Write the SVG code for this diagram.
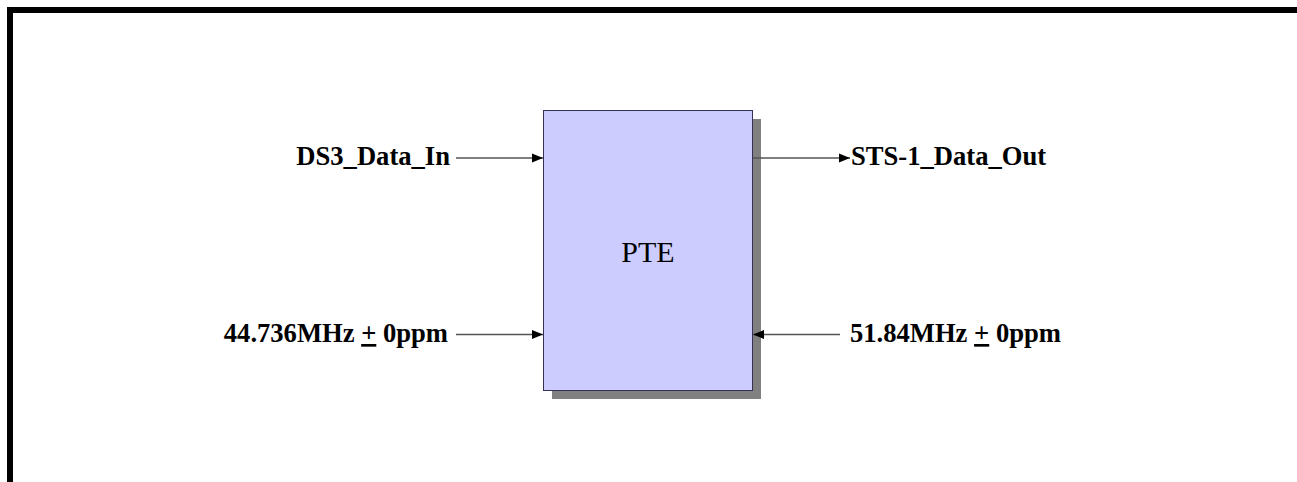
<svg xmlns="http://www.w3.org/2000/svg" width="1297" height="482" viewBox="0 0 1297 482">
<defs>
<style>
.lbl{font-family:"Liberation Serif","Times New Roman",serif;font-weight:bold;font-size:26.6px;fill:#000}
.conn{stroke:#555;stroke-width:1.3;fill:none}
</style>
<marker id="ah" markerUnits="userSpaceOnUse" markerWidth="12" markerHeight="12" refX="11" refY="6" orient="auto">
<path d="M0,1.5 L11,6 L0,10.5 Z" fill="#000"/>
</marker>
</defs>
<rect width="1297" height="482" fill="#fff"/>
<path d="M10,490 L10,10 L1310,10" fill="none" stroke="#000" stroke-width="6"/>
<g id="pte">
<rect x="552" y="119" width="209" height="280" fill="#808080"/>
<rect x="543.5" y="110.5" width="209" height="280" fill="#CCCCFF" stroke="#333355" stroke-width="1"/>
<text x="648" y="262" text-anchor="middle" font-family="Liberation Serif, Times New Roman, serif" font-size="30">PTE</text>
</g>
<g id="labels">
<text class="lbl" x="450" y="165" text-anchor="end">DS3_Data_In</text>
<text class="lbl" x="448" y="342" text-anchor="end">44.736MHz <tspan text-decoration="underline">+</tspan> 0ppm</text>
<text class="lbl" x="851" y="165">STS-1_Data_Out</text>
<text class="lbl" x="850" y="342">51.84MHz <tspan text-decoration="underline">+</tspan> 0ppm</text>
</g>
<g id="connectors">
<line class="conn" x1="456" y1="158" x2="543" y2="158" marker-end="url(#ah)"/>
<line class="conn" x1="456" y1="334.5" x2="543" y2="334.5" marker-end="url(#ah)"/>
<line class="conn" x1="753" y1="158" x2="850" y2="158" marker-end="url(#ah)"/>
<line class="conn" x1="840" y1="334.5" x2="753" y2="334.5" marker-end="url(#ah)"/>
</g>
</svg>
